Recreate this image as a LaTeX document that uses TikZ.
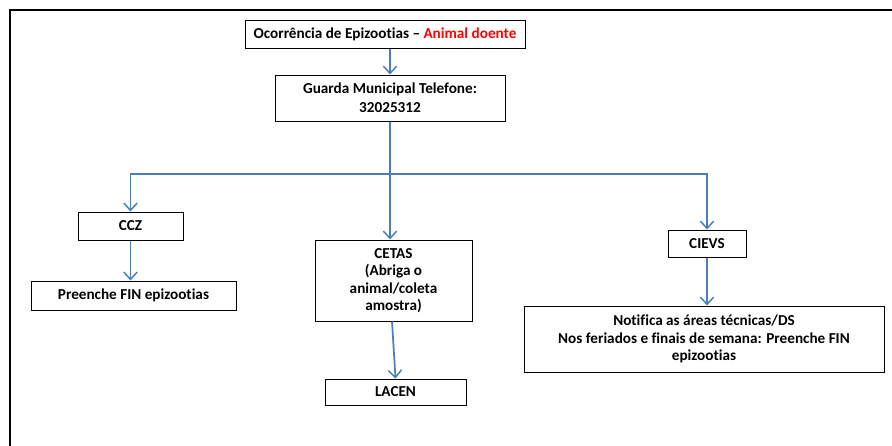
\documentclass[tikz,border=0pt]{standalone}
\usepackage{fontspec}
\setmainfont{Carlito}[Ligatures=NoCommon]
\usetikzlibrary{arrows.meta,positioning}

\begin{document}
\begin{tikzpicture}[x=0.75pt,y=-0.75pt]
\definecolor{arrow line}{RGB}{74,126,187}
\tikzset{
     box/.style={draw, line width=0.75pt, inner sep=2pt, align=center,
                 font=\fontsize{11.4}{13}\selectfont\bfseries},
     size/.style 2 args={minimum width=#1*0.75pt, minimum height=#2*0.75pt},
     arr/.style={draw=arrow line, line width=1.3pt,
                 -{Straight Barb[length=5.5pt,width=10pt,line width=1.1pt]}}}

\useasboundingbox (0,0) rectangle (892,446);

% The frame
\draw[line width=1.5pt] (10,446) -- (10,10) -- (892,10);

% The boxes
\node (occ)     [box, size={280}{28}] at (385,34)
     {Ocorrência de Epizootias -- \textcolor{red}{Animal doente}};
\node (guarda)  [box, size={230}{46}] at (390,98)
     {Guarda Municipal Telefone:\\[1pt]32025312};
\node (ccz)     [box, size={105}{28}] at (130.5,226) {CCZ};
\node (preenche)[box, size={205}{29}] at (133.5,295.5) {Preenche FIN epizootias};
\node (cetas)   [box, size={157}{81}] at (393.5,280.5)
     {CETAS\\(Abriga o\\animal/coleta\\amostra)};
\node (lacen)   [box, size={141}{26}] at (395.5,392) {LACEN};
\node (cievs)   [box, size={78}{27}] at (707,243.5) {CIEVS};
\node (notifica)[box, size={360}{66}] at (704,339)
     {Notifica as áreas técnicas/DS\\Nos feriados e finais de semana: Preenche FIN\\epizootias};

\coordinate (split) at (390,174);

% The arrows
\draw[arr] (guarda.north |- occ.south) -- (guarda.north);
\draw[arr] (guarda.south) -- (guarda.south |- cetas.north);
\draw[arr] (split) -| (ccz.north);
\draw[arr] (split) -| (cievs.north);
\draw[arr] (ccz.south) -- (ccz.south |- preenche.north);
\draw[arr] (cetas.south -| 392,0) -- (lacen.north);
\draw[arr] (cievs.south) -- (cievs.south |- notifica.north);
\end{tikzpicture}
\end{document}
